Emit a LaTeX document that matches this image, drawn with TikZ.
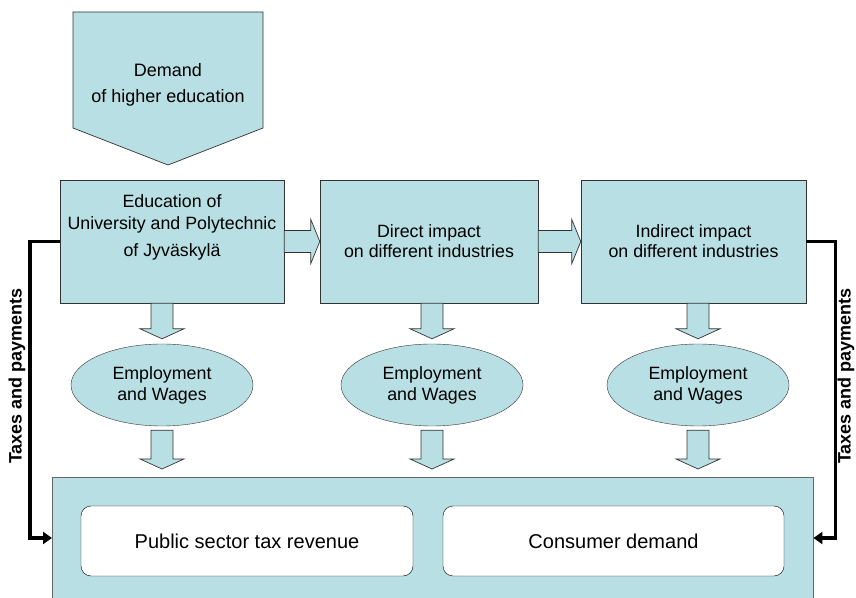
\documentclass[tikz,border=0pt]{standalone}
\usepackage{fontspec}
\setmainfont{Liberation Sans}
\usetikzlibrary{shapes.geometric,arrows.meta,calc,positioning}
\definecolor{paleblue}{RGB}{184,223,227}
\tikzset{
    box/.style={draw=black!80, fill=paleblue, minimum width=224pt, minimum height=123pt,
        inner sep=0pt, align=center, font=\fontsize{17.8}{20}\selectfont},
    oval/.style={ellipse, draw=black!80, fill=paleblue, minimum width=182pt, minimum height=82pt,
        inner sep=0pt, align=center, font=\fontsize{17.8}{21}\selectfont},
    result/.style={draw, rounded corners=10pt, fill=white, minimum height=70pt,
        font=\fontsize{20}{24}\selectfont},
    blockarrow/.style={draw=black!80, fill=paleblue, line width=0.7pt},
    payflow/.style={line width=3.5pt, -{Triangle[length=9pt,width=12pt]}},
    paylabel/.style={rotate=90, font=\bfseries\fontsize{18}{20}\selectfont},
}
% block arrow pointing down, from #1 to #2
\newcommand{\dnarrow}[2]{%
    \draw[blockarrow] let \p1=#1, \p2=#2 in
        (\x1-11pt,\y1) -- (\x1+11pt,\y1) -- (\x1+11pt,\y2+10pt) -- (\x1+22pt,\y2+10pt)
        -- (\x1,\y2) -- (\x1-22pt,\y2+10pt) -- (\x1-11pt,\y2+10pt) -- cycle;}
% block arrow pointing right, from #1 to #2
\newcommand{\rtarrow}[2]{%
    \draw[blockarrow] let \p1=#1, \p2=#2 in
        (\x1,\y1-11pt) -- (\x2-9pt,\y1-11pt) -- (\x2-9pt,\y1-22pt) -- (\x2,\y1)
        -- (\x2-9pt,\y1+22pt) -- (\x2-9pt,\y1+11pt) -- (\x1,\y1+11pt) -- cycle;}

\begin{document}
\begin{tikzpicture}[x=1pt, y=1pt]
    \useasboundingbox (0,0) rectangle (856,597);
    \clip (0,0) rectangle (856,597);
    \draw[blockarrow] (73,585) -- (263,585) -- (263,469) -- (168,432) -- (73,469) -- cycle;
    \node[align=center, font=\fontsize{18}{26}\selectfont] (demand) at (168,512) {Demand\\of higher education};

    \node[box] (edu) at (172,355.5) {};
    \node[align=center, font=\fontsize{17.8}{22}\selectfont] (edutext) at (172,370)
        {Education of\\University and Polytechnic\\[5pt]of Jyväskylä};
    \node[box, minimum width=218pt] (direct) at (429,355.5) {Direct impact\\on different industries};
    \node[box, minimum width=225pt] (indirect) at (693.5,355.5) {Indirect impact\\on different industries};

    \node[oval] (emp1) at (162,212) {Employment\\and Wages};
    \node[oval] (emp2) at (432,212) {Employment\\and Wages};
    \node[oval] (emp3) at (698,212) {Employment\\and Wages};

    \node[draw=black!60, fill=paleblue, minimum width=761pt, minimum height=130pt, anchor=north west] (economy) at (52,120) {};
    \node[result, minimum width=332pt] (tax) at (247,56) {Public sector tax revenue};
    \node[result, minimum width=341pt] (consumer) at (613.5,56) {Consumer demand};

    \rtarrow{(edu.east)}{(direct.west)}
    \rtarrow{(direct.east)}{(indirect.west)}
    \dnarrow{(edu.south -| emp1)}{($(emp1.north)+(0,5)$)}
    \dnarrow{(direct.south -| emp2)}{($(emp2.north)+(0,5)$)}
    \dnarrow{(indirect.south -| emp3)}{($(emp3.north)+(0,5)$)}
    \dnarrow{($(emp1.south)+(0,-4)$)}{($(economy.north -| emp1)+(0,8)$)}
    \dnarrow{($(emp2.south)+(0,-4)$)}{($(economy.north -| emp2)+(0,8)$)}
    \dnarrow{($(emp3.south)+(0,-4)$)}{($(economy.north -| emp3)+(0,8)$)}

    \draw[payflow] (edu.west) -| ([xshift=-22pt,yshift=-61pt]economy.north west) -- ([yshift=-61pt]economy.north west);
    \draw[payflow] (indirect.east) -| ([xshift=22pt,yshift=-61pt]economy.north east) -- ([yshift=-61pt]economy.north east);
    \node[paylabel] (taxleft) at (17,221) {Taxes and payments};
    \node[paylabel] (taxright) at (846,221) {Taxes and payments};
\end{tikzpicture}
\end{document}
